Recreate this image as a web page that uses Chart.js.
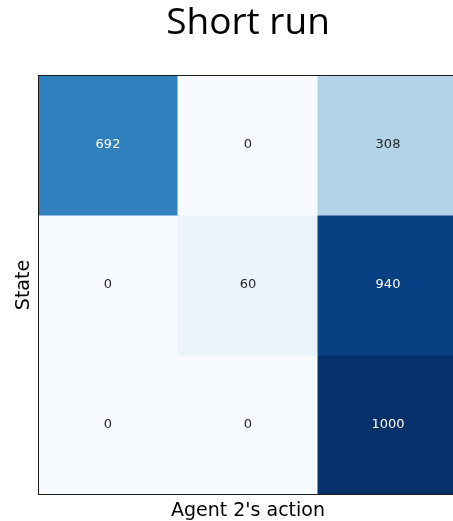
<!DOCTYPE html>
<html>
<head>
<meta charset="utf-8">
<script src="https://cdn.jsdelivr.net/npm/chart.js@4"></script>
<style>
  html, body { margin: 0; padding: 0; background: #ffffff; overflow: hidden; }
  #wrap { width: 496px; height: 521px; }
</style>
</head>
<body>
<div id="wrap"><canvas id="c" width="496" height="521"></canvas></div>
<script>
// Counts per (state, action) pair
const states = ['0', '1', '2'];
const actions = ['0', '1', '2'];
const state0Counts = [692, 0, 308];
const state1Counts = [0, 60, 940];
const state2Counts = [0, 0, 1000];
const countRows = [state0Counts, state1Counts, state2Counts];
const colorMin = 0;
const colorMax = 1000;

// Blues colour ramp (9 stops)
const bluesStops = ['#f7fbff', '#deebf7', '#c6dbef', '#9ecae1', '#6baed6',
                    '#4292c6', '#2171b5', '#08519c', '#08306b'];

function hexToRgb(h) {
  return [parseInt(h.slice(1, 3), 16), parseInt(h.slice(3, 5), 16), parseInt(h.slice(5, 7), 16)];
}

function blues(v) {
  let t = (v - colorMin) / (colorMax - colorMin);
  t = Math.max(0, Math.min(1, t));
  const pos = t * (bluesStops.length - 1);
  const i = Math.min(Math.floor(pos), bluesStops.length - 2);
  const f = pos - i;
  const a = hexToRgb(bluesStops[i]);
  const b = hexToRgb(bluesStops[i + 1]);
  const c = a.map((x, k) => Math.round(x + (b[k] - x) * f));
  return 'rgb(' + c.join(',') + ')';
}

// One floating-bar dataset per state row; each bar spans one cell
const datasets = countRows.map((row, i) => ({
  label: 'State ' + states[i],
  data: row.map(() => [i - 0.5, i + 0.5]),
  backgroundColor: row.map(blues),
  borderWidth: 0,
  inflateAmount: 0.5,
  barPercentage: 1,
  categoryPercentage: 1,
  grouped: false
}));

const cellLabels = {
  id: 'cellLabels',
  afterDatasetsDraw(chart) {
    const ctx = chart.ctx;
    const xs = chart.scales.x;
    const ys = chart.scales.y;
    ctx.save();
    ctx.font = '13px "DejaVu Sans"';
    ctx.textAlign = 'center';
    ctx.textBaseline = 'middle';
    countRows.forEach((row, i) => {
      row.forEach((v, j) => {
        ctx.fillStyle = v > (colorMin + colorMax) / 2 ? '#ffffff' : '#262626';
        ctx.fillText(String(v), xs.getPixelForValue(j), ys.getPixelForValue(i));
      });
    });
    // plot frame
    const a = chart.chartArea;
    ctx.strokeStyle = '#1a1a1a';
    ctx.lineWidth = 1;
    ctx.strokeRect(a.left + 0.5, a.top + 0.5, a.right - a.left - 1, a.bottom - a.top - 1);
    ctx.restore();
  }
};

new Chart(document.getElementById('c'), {
  type: 'bar',
  data: { labels: actions, datasets: datasets },
  plugins: [cellLabels],
  options: {
    responsive: false,
    animation: false,
    layout: { padding: { left: 11.7, right: 38, top: 0, bottom: 0 } },
    plugins: {
      legend: { display: false },
      tooltip: { enabled: false },
      title: {
        display: true,
        fullSize: false,
        text: 'Short run',
        color: '#000000',
        font: { family: '"Open Sans"', size: 37, weight: 'normal', lineHeight: 1.2 },
        padding: { top: 1.4, bottom: 29.2 }
      }
    },
    scales: {
      x: {
        type: 'category',
        offset: true,
        grid: { display: false },
        border: { display: false },
        ticks: { display: false },
        afterFit(scale) { scale.height = 26; },
        title: {
          display: true,
          text: "Agent 2's action",
          color: '#000000',
          font: { family: '"DejaVu Sans"', size: 19, lineHeight: 1.0 },
          padding: { top: 0, bottom: 0 }
        }
      },
      y: {
        type: 'linear',
        min: -0.5,
        max: 2.5,
        reverse: true,
        grid: { display: false },
        border: { display: false },
        ticks: { display: false },
        afterFit(scale) { scale.width = 26.3; },
        title: {
          display: true,
          text: 'State',
          color: '#000000',
          font: { family: '"DejaVu Sans"', size: 19, lineHeight: 1.2 },
          padding: { top: 1, bottom: 3 }
        }
      }
    }
  }
});
</script>
</body>
</html>
